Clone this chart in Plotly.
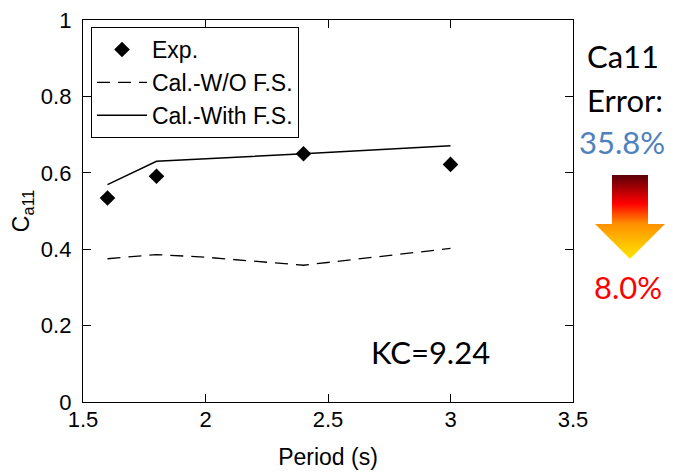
import plotly.graph_objects as go

# ---- data ----
period_exp = [1.6, 1.8, 2.4, 3.0]
ca11_exp = [0.534, 0.591, 0.650, 0.622]

period_wo = [1.6, 1.8, 2.0, 2.4, 3.0]
ca11_wo = [0.375, 0.386, 0.379, 0.358, 0.402]

period_fs = [1.6, 1.8, 2.4, 3.0]
ca11_fs = [0.569, 0.630, 0.650, 0.671]

x_ticks = [1.5, 2, 2.5, 3, 3.5]
x_tick_labels = ["1.5", "2", "2.5", "3", "3.5"]
y_ticks = [0, 0.2, 0.4, 0.6, 0.8, 1]
y_tick_labels = ["0", "0.2", "0.4", "0.6", "0.8", "1"]

# ---- layout geometry (pixels) ----
W, H = 673, 476
ML, MR, MT, MB = 83, 5, 20, 74
PW = W - ML - MR
PH = H - MT - MB


def px(xp):
    return (xp - ML) / PW


def py(yp):
    return (H - MB - yp) / PH


FONT = "Liberation Sans, Arial, sans-serif"
NOTE_FONT = "Lato, Liberation Sans, sans-serif"

fig = go.Figure()

fig.add_trace(go.Scatter(
    x=period_exp, y=ca11_exp, mode="markers", name="Exp.",
    marker=dict(symbol="diamond", size=12, color="black"),
))
fig.add_trace(go.Scatter(
    x=period_wo, y=ca11_wo, mode="lines", name="Cal.-W/O F.S.",
    line=dict(color="black", width=1.3, dash="13px,8px"),
))
fig.add_trace(go.Scatter(
    x=period_fs, y=ca11_fs, mode="lines", name="Cal.-With F.S.",
    line=dict(color="black", width=1.5),
))

# gradient arrow (decoration) on its own hidden axes
arrow_x = [0.243, 0.757, 0.757, 1.0, 0.5, 0.0, 0.243, 0.243]
arrow_y = [1.0, 1.0, 0.417, 0.417, 0.0, 0.417, 0.417, 1.0]
fig.add_trace(go.Scatter(
    x=arrow_x, y=arrow_y, xaxis="x2", yaxis="y2", mode="lines",
    line=dict(width=0), fill="toself", showlegend=False, hoverinfo="skip",
    fillgradient=dict(
        type="vertical",
        colorscale=[[0, "#ffe600"], [0.42, "#ff9000"], [0.66, "#ff0000"], [1, "#5a0008"]],
    ),
))

axis_common = dict(
    showline=True, linecolor="black", linewidth=1.3, mirror="ticks",
    ticks="inside", ticklen=8, tickwidth=1, tickcolor="black",
    showgrid=False, zeroline=False,
    tickfont=dict(family=FONT, size=22, color="black"),
)

fig.update_layout(
    width=W, height=H,
    margin=dict(l=ML, r=MR, t=MT, b=MB, autoexpand=False),
    paper_bgcolor="white", plot_bgcolor="white",
    font=dict(family=FONT, color="black"),
    xaxis=dict(
        domain=[0, px(573)], range=[1.5, 3.5],
        tickvals=x_ticks, ticktext=x_tick_labels,
        title=dict(text="Period (s)", font=dict(size=23), standoff=18),
        ticklabelstandoff=-3,
        **axis_common,
    ),
    yaxis=dict(
        domain=[0, 1], range=[0, 1],
        tickvals=y_ticks, ticktext=y_tick_labels,
        title=dict(text="C<sub>a11</sub>", font=dict(size=23), standoff=4),
        ticklabelstandoff=6,
        **axis_common,
    ),
    xaxis2=dict(domain=[px(595), px(665)], range=[0, 1], visible=False,
                fixedrange=True, anchor="y2"),
    yaxis2=dict(domain=[py(259), py(175)], range=[0, 1], visible=False,
                fixedrange=True, anchor="x2"),
    legend=dict(
        x=px(91), y=py(27), xanchor="left", yanchor="top",
        bgcolor="white", bordercolor="black", borderwidth=1,
        font=dict(family=FONT, size=23, color="black"),
        itemwidth=50, tracegroupgap=0,
    ),
    showlegend=True,
)

notes = [
    ("Ca11", 623, 56, "black", 31),
    ("Error:", 625, 100, "black", 31),
    ("35.8%", 622, 142, "#4f81bd", 31),
    ("8.0%", 628, 287, "#ff0000", 31),
    ("KC=9.24", 430, 352, "black", 31),
]
for text, xp, yp, col, sz in notes:
    fig.add_annotation(
        x=px(xp), y=py(yp), xref="paper", yref="paper", text=text,
        showarrow=False, xanchor="center", yanchor="middle",
        font=dict(family=NOTE_FONT, size=sz, color=col),
    )

fig.write_html("out.html")
